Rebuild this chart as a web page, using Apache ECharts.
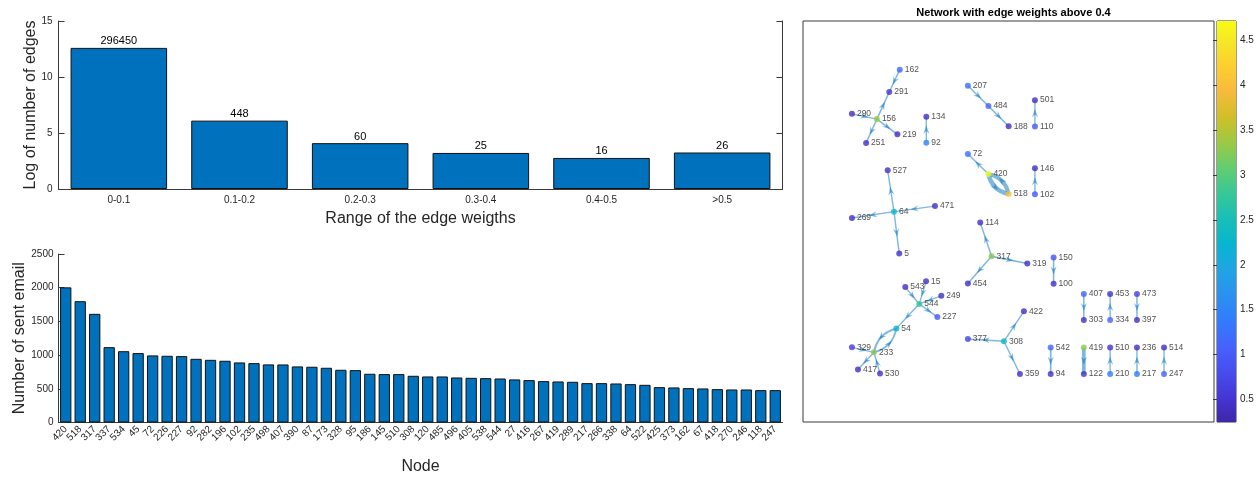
<!DOCTYPE html>
<html>
<head>
<meta charset="utf-8">
<script src="https://cdn.jsdelivr.net/npm/echarts@6/dist/echarts.min.js"></script>
<style>
html, body { margin: 0; padding: 0; background: #fff; }
#chart { width: 1260px; height: 479px; }
</style>
</head>
<body>
<div id="chart"></div>
<script>
// ---- Edge-weight histogram ----
const weightRanges = ['0-0.1', '0.1-0.2', '0.2-0.3', '0.3-0.4', '0.4-0.5', '>0.5'];
const edgeCounts = [296450, 448, 60, 25, 16, 26];

// ---- Sent email per node ----
const senderNodes = ['420', '518', '317', '337', '534', '45', '72', '226', '227', '92',
  '282', '196', '102', '235', '498', '407', '390', '87', '173', '328',
  '95', '186', '145', '510', '308', '120', '485', '496', '405', '538',
  '544', '27', '416', '267', '419', '289', '217', '266', '338', '64',
  '522', '425', '373', '162', '67', '418', '270', '246', '118', '247'];
const sentCounts = [2005, 1800, 1612, 1118, 1058, 1030, 995, 990, 985, 945,
  930, 916, 891, 881, 862, 861, 832, 827, 812, 782,
  777, 723, 718, 718, 693, 683, 683, 668, 663, 658,
  653, 639, 629, 614, 609, 604, 584, 584, 579, 569,
  559, 525, 520, 510, 505, 495, 490, 490, 480, 480];

// ---- Network (edges with weight above 0.4) ----
const nodeIds = ['162', '291', '290', '156', '219', '251', '134', '92', '207', '484',
  '188', '72', '420', '518', '527', '64', '471', '269', '114', '501',
  '110', '146', '102', '5', '317', '454', '15', '543', '249', '544',
  '227', '54', '329', '233', '417', '530', '377', '308', '422', '359',
  '319', '150', '100', '407', '453', '473', '303', '334', '397', '542',
  '94', '419', '122', '510', '210', '236', '217', '514', '247'];
const nodeX = [3.68, 3.28, 1.86, 2.81, 3.59, 2.40, 4.69, 4.69, 6.27, 7.05,
  7.82, 6.27, 7.05, 7.82, 3.22, 3.46, 5.02, 1.86, 6.74, 8.82,
  8.82, 8.82, 8.82, 3.66, 7.17, 6.27, 4.68, 3.89, 5.26, 4.42,
  5.11, 3.55, 1.86, 2.70, 2.09, 2.93, 6.27, 7.64, 8.40, 8.25,
  8.53, 9.53, 9.53, 10.68, 11.68, 12.70, 10.68, 11.68, 12.70, 9.42,
  9.42, 10.68, 10.68, 11.68, 11.68, 12.70, 12.70, 13.73, 13.73];
const nodeY = [13.40, 12.55, 11.72, 11.52, 10.94, 10.61, 11.61, 10.62, 12.79, 12.02,
  11.25, 10.19, 9.43, 8.67, 9.57, 8.00, 8.21, 7.76, 7.59, 12.24,
  11.24, 9.65, 8.66, 6.41, 6.30, 5.27, 5.35, 5.13, 4.80, 4.49,
  3.99, 3.56, 2.84, 2.65, 2.00, 1.84, 3.16, 3.07, 4.21, 1.83,
  6.03, 6.26, 5.26, 4.87, 4.87, 4.87, 3.88, 3.88, 3.88, 2.83,
  1.83, 2.83, 1.83, 2.83, 1.83, 2.83, 1.83, 2.83, 1.83];
const nodeHeat = [1.15, 0.50, 0.38, 3.35, 0.38, 0.42, 0.38, 1.50, 1.20, 1.10,
  0.42, 1.25, 4.72, 4.10, 0.42, 2.35, 0.42, 0.42, 0.42, 0.38,
  0.95, 0.38, 0.95, 0.42, 3.30, 0.42, 0.42, 0.42, 0.42, 2.80,
  0.95, 2.25, 0.60, 3.30, 0.42, 0.42, 0.70, 2.35, 0.42, 0.42,
  0.42, 0.90, 0.42, 1.05, 0.42, 0.65, 0.42, 1.10, 0.42, 1.15,
  0.42, 3.30, 0.42, 0.50, 1.35, 0.42, 1.35, 0.42, 1.05];

const edgeFrom = ['162', '156', '290', '156', '156', '92', '207', '484', '420', '420',
  '518', '64', '471', '64', '64', '110', '102', '317', '317', '317',
  '150', '15', '543', '249', '544', '544', '54', '233', '329', '233',
  '530', '308', '308', '308', '407', '334', '473', '542', '419', '210',
  '217', '247'];
const edgeTo = ['291', '291', '156', '219', '251', '134', '484', '188', '72', '518',
  '420', '527', '64', '269', '5', '501', '146', '114', '454', '319',
  '100', '544', '544', '544', '227', '54', '233', '54', '233', '417',
  '233', '377', '422', '359', '303', '453', '397', '94', '122', '510',
  '236', '514'];
const edgeWeight = [0.55, 0.60, 0.50, 0.60, 0.55, 0.50, 0.60, 0.60, 0.55, 2.40,
  2.20, 0.50, 0.55, 0.55, 0.50, 0.50, 0.50, 0.55, 0.55, 0.65,
  0.60, 0.45, 0.50, 0.45, 0.50, 0.50, 0.90, 0.80, 0.50, 0.50,
  0.50, 0.55, 0.50, 0.50, 0.60, 0.50, 0.55, 0.70, 1.90, 0.50,
  0.50, 0.50];

// colour scale range of the network colourbar
const heatMin = 0.246;
const heatMax = 4.72;
const heatTicks = [0.5, 1, 1.5, 2, 2.5, 3, 3.5, 4, 4.5];

// parula colormap (sampled rows)
const parulaRows = [
  [0, 0.2422, 0.1504, 0.6603], [4, 0.2706, 0.2147, 0.8364], [8, 0.2813, 0.3006, 0.9414],
  [12, 0.2699, 0.3892, 0.9906], [16, 0.1963, 0.4847, 0.9892], [20, 0.1687, 0.5703, 0.9359],
  [24, 0.1248, 0.6459, 0.8883], [28, 0.0297, 0.7082, 0.8163], [32, 0.0964, 0.7500, 0.7120],
  [36, 0.2161, 0.7843, 0.5923], [40, 0.3909, 0.8029, 0.4354], [44, 0.6174, 0.7876, 0.2612],
  [48, 0.8203, 0.7498, 0.1535], [52, 0.9728, 0.7298, 0.2394], [56, 0.9892, 0.8136, 0.1885],
  [60, 0.9597, 0.9135, 0.1423], [63, 0.9769, 0.9839, 0.0805]
];
function rgb(r, g, b) {
  return 'rgb(' + Math.round(r * 255) + ',' + Math.round(g * 255) + ',' + Math.round(b * 255) + ')';
}
function parula(t) {
  t = Math.max(0, Math.min(1, t)) * 63;
  for (let i = 1; i < parulaRows.length; i++) {
    const a = parulaRows[i - 1], b = parulaRows[i];
    if (t <= b[0]) {
      const f = (t - a[0]) / (b[0] - a[0]);
      return rgb(a[1] + f * (b[1] - a[1]), a[2] + f * (b[2] - a[2]), a[3] + f * (b[3] - a[3]));
    }
  }
  const l = parulaRows[parulaRows.length - 1];
  return rgb(l[1], l[2], l[3]);
}
const parulaStops = parulaRows.map(r => ({ offset: r[0] / 63, color: rgb(r[1], r[2], r[3]) }));

const axisColor = '#3a3a3a';
const textColor = '#262626';
const barColor = '#0072BD';
const edgeColor = 'rgba(0,114,189,0.5)';
const fontFamily = '"Liberation Sans", Arial, Helvetica, sans-serif';

// node and edge records for the network panel
const nodeIndex = {};
nodeIds.forEach((id, i) => { nodeIndex[id] = i; });
const nodeData = nodeIds.map((id, i) => ({
  name: id,
  value: [nodeX[i], nodeY[i]],
  itemStyle: { color: parula((nodeHeat[i] - heatMin) / (heatMax - heatMin)) }
}));
const edgeData = edgeFrom.map((f, i) => {
  const a = nodeIndex[f], b = nodeIndex[edgeTo[i]];
  const twoWay = edgeFrom.some((g, j) => g === edgeTo[i] && edgeTo[j] === f);
  return [nodeX[a], nodeY[a], nodeX[b], nodeY[b], edgeWeight[i], twoWay ? 0.32 : 0];
});

// straight or bent edge with an arrowhead half-way along
function renderEdge(params, api) {
  const p = api.coord([api.value(0), api.value(1)]);
  const q = api.coord([api.value(2), api.value(3)]);
  const w = api.value(4);
  const bend = api.value(5);
  const dx = q[0] - p[0], dy = q[1] - p[1];
  const len = Math.sqrt(dx * dx + dy * dy) || 1;
  const ux = dx / len, uy = dy / len;
  const nx = -uy, ny = ux;
  const lw = 0.6 + 1.6 * w;
  let shape, mx, my;
  if (bend) {
    const cx = (p[0] + q[0]) / 2 + nx * bend * len;
    const cy = (p[1] + q[1]) / 2 + ny * bend * len;
    shape = { type: 'bezierCurve', shape: { x1: p[0], y1: p[1], x2: q[0], y2: q[1], cpx1: cx, cpy1: cy },
      style: { stroke: edgeColor, lineWidth: lw, fill: null } };
    mx = 0.25 * p[0] + 0.5 * cx + 0.25 * q[0];
    my = 0.25 * p[1] + 0.5 * cy + 0.25 * q[1];
  } else {
    shape = { type: 'line', shape: { x1: p[0], y1: p[1], x2: q[0], y2: q[1] },
      style: { stroke: edgeColor, lineWidth: lw } };
    mx = (p[0] + q[0]) / 2;
    my = (p[1] + q[1]) / 2;
  }
  const h = 4, hw = 3;
  const arrow = {
    type: 'polygon',
    shape: { points: [
      [mx + ux * h, my + uy * h],
      [mx - ux * h + nx * hw, my - uy * h + ny * hw],
      [mx - ux * h * 0.3, my - uy * h * 0.3],
      [mx - ux * h - nx * hw, my - uy * h - ny * hw]
    ] },
    style: { fill: edgeColor }
  };
  return { type: 'group', children: [shape, arrow] };
}

// colourbar: one rectangle spanning the colour scale, filled with parula
function renderColorbar(params, api) {
  const top = api.coord([0, api.value(2)]);
  const bottom = api.coord([1, api.value(1)]);
  return {
    type: 'rect',
    shape: { x: top[0], y: top[1], width: bottom[0] - top[0], height: bottom[1] - top[1] },
    style: { fill: new echarts.graphic.LinearGradient(0, 1, 0, 0, parulaStops) }
  };
}

const chart = echarts.init(document.getElementById('chart'), null, { renderer: 'canvas' });

const plainLine = { show: true, lineStyle: { color: axisColor, width: 1 } };

const option = {
  animation: false,
  backgroundColor: '#fff',
  textStyle: { fontFamily: fontFamily },
  title: {
    text: 'Network with edge weights above 0.4',
    left: 1008.5,
    top: 2,
    textAlign: 'center',
    textStyle: { fontSize: 11, fontWeight: 'bold', color: '#000', fontFamily: fontFamily }
  },
  grid: [
    { left: 58.5, top: 21, width: 724, height: 168, outerBoundsMode: 'none' },
    { left: 58.5, top: 254, width: 724, height: 168.5, outerBoundsMode: 'none' },
    { left: 803, top: 21, width: 411, height: 401, show: true, borderColor: axisColor, borderWidth: 1, outerBoundsMode: 'none' },
    { left: 1217, top: 21, width: 19, height: 401, show: true, borderColor: axisColor, borderWidth: 1, outerBoundsMode: 'none' }
  ],
  xAxis: [
    {
      gridIndex: 0, type: 'category', data: weightRanges, position: 'bottom',
      axisLine: plainLine,
      axisTick: { alignWithLabel: true, inside: true, length: 6, lineStyle: { color: axisColor } },
      axisLabel: { color: textColor, fontSize: 10, margin: 6 },
      name: 'Range of the edge weigths', nameLocation: 'middle', nameGap: 22, nameMoveOverlap: false,
      nameTextStyle: { fontSize: 16, color: textColor }
    },
    {
      gridIndex: 0, type: 'category', data: weightRanges, position: 'top',
      axisLine: plainLine,
      axisTick: { alignWithLabel: true, inside: true, length: 6, lineStyle: { color: axisColor } },
      axisLabel: { show: false }
    },
    {
      gridIndex: 1, type: 'category', data: senderNodes, position: 'bottom',
      axisLine: plainLine,
      axisTick: { alignWithLabel: true, inside: false, length: 5, interval: 0, lineStyle: { color: axisColor } },
      axisLabel: { color: textColor, fontSize: 10, rotate: 45, interval: 0, margin: 5 },
      name: 'Node', nameLocation: 'middle', nameGap: 36,
      nameTextStyle: { fontSize: 16, color: textColor }
    },
    { gridIndex: 2, type: 'value', min: 0, max: 15.63, show: false },
    { gridIndex: 3, type: 'value', min: 0, max: 1, show: false }
  ],
  yAxis: [
    {
      gridIndex: 0, type: 'value', min: 0, max: 15, interval: 5, position: 'left',
      axisLine: plainLine,
      axisTick: { show: true, inside: true, length: 6, lineStyle: { color: axisColor } },
      axisLabel: { color: textColor, fontSize: 10, margin: 6 },
      splitLine: { show: false },
      name: 'Log of number of edges', nameLocation: 'middle', nameGap: 20, nameMoveOverlap: false,
      nameTextStyle: { fontSize: 16, color: textColor }
    },
    {
      gridIndex: 0, type: 'value', min: 0, max: 15, interval: 5, position: 'right',
      axisLine: plainLine,
      axisTick: { show: true, inside: true, length: 6, lineStyle: { color: axisColor } },
      axisLabel: { show: false },
      splitLine: { show: false }
    },
    {
      gridIndex: 1, type: 'value', min: 0, max: 2500, interval: 500, position: 'left',
      axisLine: plainLine,
      axisTick: { show: true, inside: true, length: 6, lineStyle: { color: axisColor } },
      axisLabel: { color: textColor, fontSize: 10, margin: 5, formatter: v => String(v) },
      splitLine: { show: false },
      name: 'Number of sent email', nameLocation: 'middle', nameGap: 31, nameMoveOverlap: false,
      nameTextStyle: { fontSize: 16, color: textColor }
    },
    { gridIndex: 2, type: 'value', min: 0, max: 15.25, show: false },
    {
      gridIndex: 3, type: 'value', min: heatMin, max: heatMax, position: 'right',
      axisLine: { show: false },
      axisTick: { show: true, inside: true, length: 4, customValues: heatTicks, lineStyle: { color: axisColor } },
      axisLabel: { color: textColor, fontSize: 10, margin: 4, customValues: heatTicks },
      splitLine: { show: false }
    }
  ],
  series: [
    {
      type: 'bar', xAxisIndex: 0, yAxisIndex: 0,
      data: edgeCounts.map(c => Math.log(c)),
      barWidth: '80%',
      itemStyle: { color: barColor, borderColor: '#111', borderWidth: 1 },
      label: {
        show: true, position: 'top', distance: 1, fontSize: 11, color: '#000',
        formatter: p => String(edgeCounts[p.dataIndex])
      }
    },
    {
      type: 'bar', xAxisIndex: 2, yAxisIndex: 2,
      data: sentCounts,
      barWidth: '78%',
      itemStyle: { color: barColor, borderColor: '#111', borderWidth: 1 }
    },
    {
      type: 'custom', xAxisIndex: 3, yAxisIndex: 3,
      data: edgeData,
      encode: { x: [0, 2], y: [1, 3] },
      renderItem: renderEdge,
      z: 2
    },
    {
      type: 'scatter', xAxisIndex: 3, yAxisIndex: 3,
      data: nodeData,
      symbolSize: 6,
      z: 3,
      label: {
        show: true, position: 'right', distance: 2, fontSize: 8.5, color: textColor,
        formatter: p => p.name
      }
    },
    {
      type: 'custom', xAxisIndex: 4, yAxisIndex: 4,
      data: [[0, heatMin, heatMax]],
      encode: { x: 0, y: [1, 2] },
      renderItem: renderColorbar
    }
  ]
};

chart.setOption(option);
</script>
</body>
</html>
